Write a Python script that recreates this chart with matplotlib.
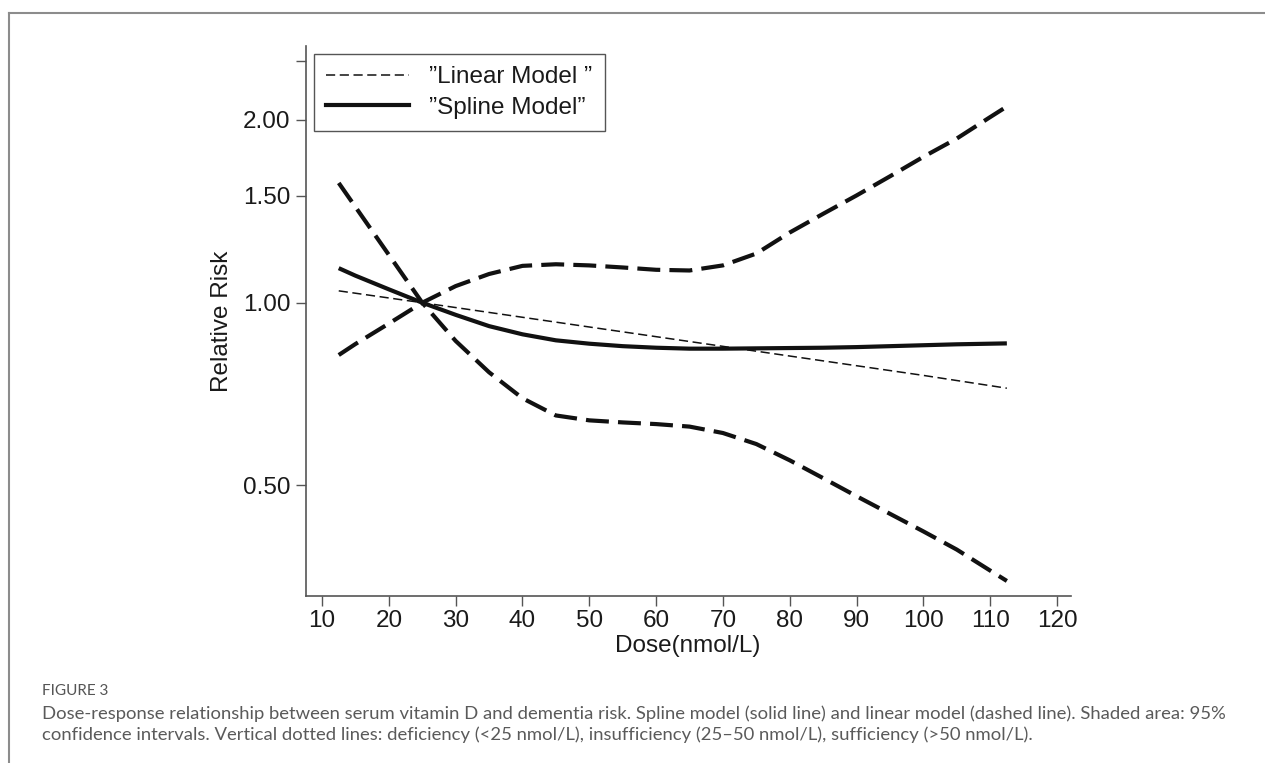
import matplotlib
matplotlib.use('Agg')
import matplotlib.pyplot as plt
from matplotlib.lines import Line2D
from matplotlib.ticker import NullLocator

# dose grid (nmol/L) and relative risk
dose = [12.5, 15, 20, 25, 30, 35, 40, 45, 50, 55, 60, 65, 70, 75, 80, 85, 90, 95, 100, 105, 110, 112.5]
spline_rr = [1.140, 1.108, 1.052, 1.000, 0.955, 0.915, 0.887, 0.867, 0.856, 0.848, 0.843, 0.840,
             0.840, 0.841, 0.842, 0.843, 0.845, 0.848, 0.851, 0.854, 0.856, 0.857]
upper_ci = [0.820, 0.855, 0.924, 1.000, 1.065, 1.115, 1.150, 1.157, 1.152, 1.143, 1.133, 1.130,
            1.152, 1.205, 1.305, 1.401, 1.502, 1.615, 1.739, 1.864, 2.022, 2.105]
lower_ci = [1.575, 1.438, 1.199, 1.000, 0.865, 0.768, 0.696, 0.652, 0.640, 0.635, 0.631, 0.625,
            0.610, 0.585, 0.550, 0.514, 0.480, 0.449, 0.420, 0.392, 0.362, 0.348]

linear_dose = [12.5, 25, 50, 75, 100, 112.5]
linear_rr = [1.046, 1.000, 0.912, 0.832, 0.759, 0.723]

x_ticks = [10, 20, 30, 40, 50, 60, 70, 80, 90, 100, 110, 120]
y_ticks = [0.5, 1.0, 1.5, 2.0, 2.5]
y_labels = ['0.50', '1.00', '1.50', '2.00', '']

legend_labels = ['\u201dLinear Model \u201d', '\u201dSpline Model\u201d']
caption_head = 'FIGURE 3'
caption_lines = [
    'Dose-response relationship between serum vitamin D and dementia risk. Spline model (solid line) '
    'and linear model (dashed line). Shaded area: 95%',
    'confidence intervals. Vertical dotted lines: deficiency (<25 nmol/L), insufficiency (25\u201350 nmol/L), '
    'sufficiency (>50 nmol/L).',
]

plt.rcParams['font.family'] = ['Liberation Sans', 'DejaVu Sans']

W, H = 1265, 763
fig = plt.figure(figsize=(W / 100, H / 100), dpi=100)
ax = fig.add_axes([306 / W, (H - 596) / H, 765 / W, 550 / H])

ink = '#111111'
axis_col = '#555555'

# confidence bands (thick long dashes)
ax.plot(dose, upper_ci, color=ink, lw=3.0, dashes=(5.5, 2.2))
ax.plot(dose, lower_ci, color=ink, lw=3.0, dashes=(5.5, 2.2))
# linear model (thin dashes) and spline model (solid)
ax.plot(linear_dose, linear_rr, color=ink, lw=1.1, dashes=(6, 3))
ax.plot(dose, spline_rr, color=ink, lw=3.0, solid_capstyle='butt')

ax.set_yscale('log')
ax.set_xlim(7.6, 122.1)
ax.set_ylim(0.3287, 2.648)
ax.set_xticks(x_ticks)
ax.set_yticks(y_ticks)
ax.set_yticklabels(y_labels)
ax.yaxis.set_minor_locator(NullLocator())
ax.xaxis.set_minor_locator(NullLocator())

for s in ['top', 'right']:
    ax.spines[s].set_visible(False)
for s in ['left', 'bottom']:
    ax.spines[s].set_color(axis_col)
    ax.spines[s].set_linewidth(1.2)

ax.tick_params(axis='both', length=7, width=1, color=axis_col, labelsize=17.5,
               labelcolor='#1a1a1a')
ax.tick_params(axis='x', pad=3)
ax.tick_params(axis='y', pad=4)

fig.text(222 / W, 1 - 321 / H, 'Relative Risk', rotation=90, ha='center', va='center',
         fontsize=17.5, color='#1a1a1a')
fig.text(688 / W, 1 - 646 / H, 'Dose(nmol/L)', ha='center', va='center',
         fontsize=17.5, color='#1a1a1a')

handles = [Line2D([], [], color=ink, lw=1.1, dashes=(6, 3)),
           Line2D([], [], color=ink, lw=3.0)]
leg = ax.legend(handles, legend_labels, loc='upper left', bbox_to_anchor=(0.0105, 0.9855),
                fontsize=17.5, handlelength=3.4, handletextpad=0.85, labelspacing=0.36,
                borderpad=0.5, borderaxespad=0, fancybox=False, framealpha=1,
                edgecolor=axis_col)
leg.get_frame().set_linewidth(1.0)
for t in leg.get_texts():
    t.set_color('#1a1a1a')

# caption block
cap_font = ['Lato', 'DejaVu Sans']
fig.text(42 / W, 1 - 695 / H, caption_head, fontsize=11, color='#555555',
         family=cap_font, va='baseline')
for i, line in enumerate(caption_lines):
    fig.text(42 / W, 1 - (719 + 21 * i) / H, line, fontsize=13.3, color='#5a5a5a',
             family=cap_font, va='baseline')

# thin frame on top and left of the panel
frame_col = '#8c8c8c'
fig.add_artist(Line2D([9 / W, 1], [1 - 13 / H, 1 - 13 / H], transform=fig.transFigure,
                      color=frame_col, lw=1.5))
fig.add_artist(Line2D([9 / W, 9 / W], [0, 1 - 13 / H], transform=fig.transFigure,
                      color=frame_col, lw=1.5))

fig.savefig('out.png', dpi=100)
plt.close('all')
